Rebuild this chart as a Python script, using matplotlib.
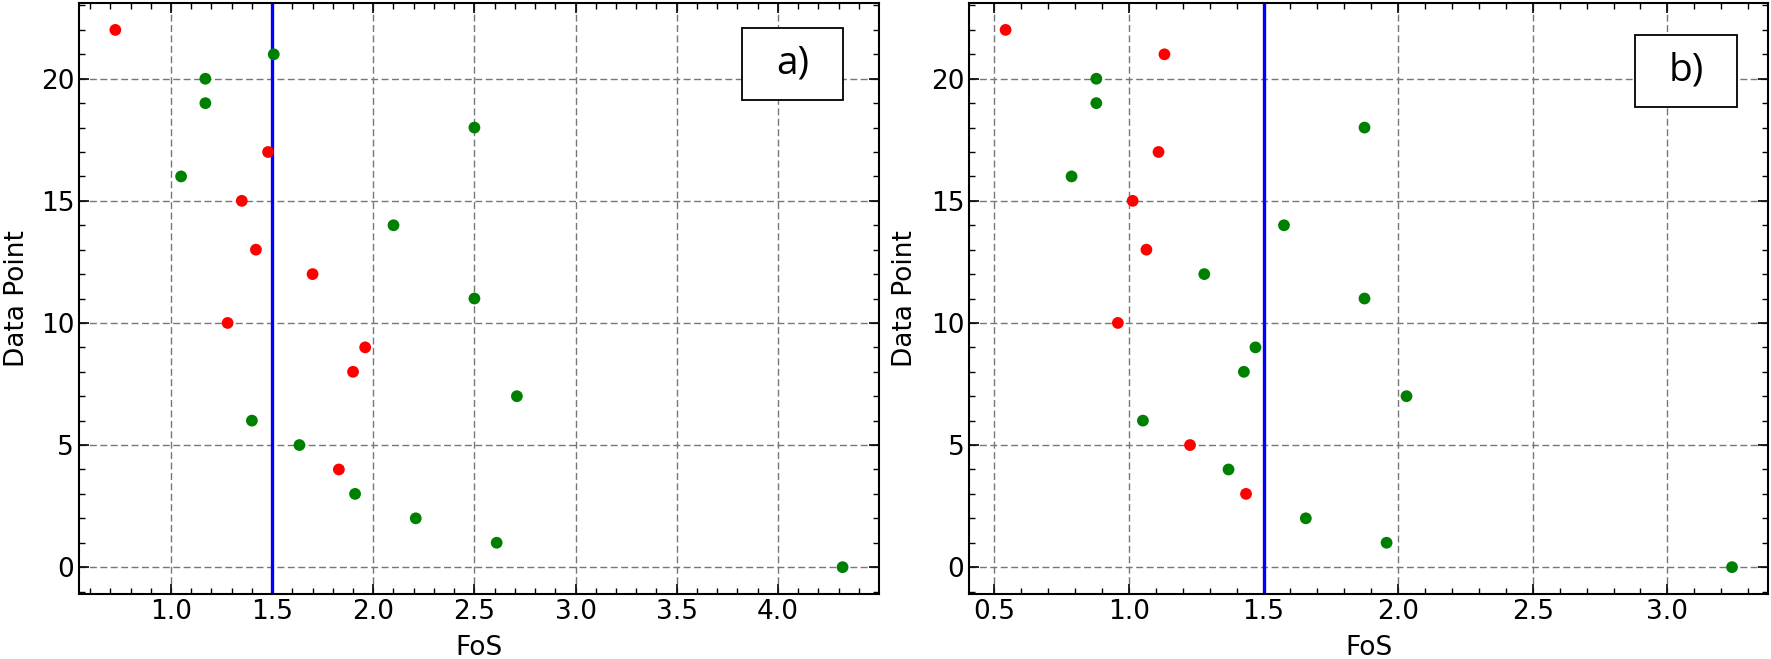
import matplotlib
matplotlib.use("Agg")
import matplotlib.pyplot as plt
from matplotlib.patches import Rectangle
from matplotlib.ticker import MultipleLocator, FormatStrFormatter

# Data point index (0..22) for both panels
points = list(range(23))

# Panel a) factor of safety per data point
fos_a = [4.32, 2.61, 2.21, 1.91, 1.83, 1.635, 1.40, 2.71, 1.90, 1.96, 1.28, 2.50,
         1.70, 1.42, 2.10, 1.35, 1.05, 1.48, 2.50, 1.17, 1.17, 1.508, 0.725]
safe_a = [1, 1, 1, 1, 0, 1, 1, 1, 0, 0, 0, 1,
          0, 0, 1, 0, 1, 0, 1, 1, 1, 1, 0]

# Panel b) factor of safety per data point
fos_b = [3.24, 1.957, 1.657, 1.435, 1.37, 1.227, 1.052, 2.031, 1.427, 1.47, 0.959, 1.875,
         1.28, 1.065, 1.576, 1.014, 0.787, 1.11, 1.875, 0.879, 0.879, 1.132, 0.542]
safe_b = [1, 1, 1, 0, 1, 0, 1, 1, 1, 1, 0, 1,
          1, 0, 1, 0, 1, 0, 1, 1, 1, 0, 0]

threshold = 1.5
panel_labels = ["a)", "b)"]

fig = plt.figure(figsize=(17.71, 6.59), dpi=100)
ax_a = fig.add_axes([0.0446, 0.0986, 0.4517, 0.8968])
ax_b = fig.add_axes([0.5473, 0.0986, 0.4512, 0.8968])

box_pos = [(0.892, 0.897), (0.897, 0.885)]
ylab_x = [-0.078, -0.080]

for ax, fos, safe, lab, (bx, by), yx in zip([ax_a, ax_b], [fos_a, fos_b], [safe_a, safe_b],
                                            panel_labels, box_pos, ylab_x):
    colors = ["green" if s else "red" for s in safe]
    ax.scatter(fos, points, c=colors, s=72, zorder=3, linewidths=0)
    ax.axvline(threshold, color="blue", linewidth=2.4, zorder=2)

    ax.xaxis.set_major_locator(MultipleLocator(0.5))
    ax.xaxis.set_minor_locator(MultipleLocator(0.1))
    ax.yaxis.set_major_locator(MultipleLocator(5))
    ax.yaxis.set_minor_locator(MultipleLocator(1))
    ax.xaxis.set_major_formatter(FormatStrFormatter("%.1f"))
    ax.tick_params(which="both", direction="in", top=True, right=True, labelsize=19)
    ax.tick_params(which="major", length=7, width=1.2)
    ax.tick_params(which="minor", length=4, width=1.0)
    for sp in ax.spines.values():
        sp.set_linewidth(1.5)

    ax.grid(True, which="major", linestyle=(0, (5, 2.5)), color="#777777", linewidth=1.0)
    ax.set_axisbelow(True)

    xl = ax.set_xlabel("FoS", fontsize=19)
    xl.set_va("center")
    ax.xaxis.set_label_coords(0.5, -0.0914)
    yl = ax.set_ylabel("Data Point", fontsize=19)
    yl.set_va("center")
    ax.yaxis.set_label_coords(yx, 0.5)

    w, h = 0.127, 0.122
    ax.add_patch(Rectangle((bx - w / 2, by - h / 2), w, h, transform=ax.transAxes,
                           facecolor="white", edgecolor="black", linewidth=1.3, zorder=5))
    ax.text(bx, by, lab, transform=ax.transAxes, ha="center", va="center",
            fontsize=28, family="Open Sans", zorder=6)

fig.savefig("out.png", dpi=100)
